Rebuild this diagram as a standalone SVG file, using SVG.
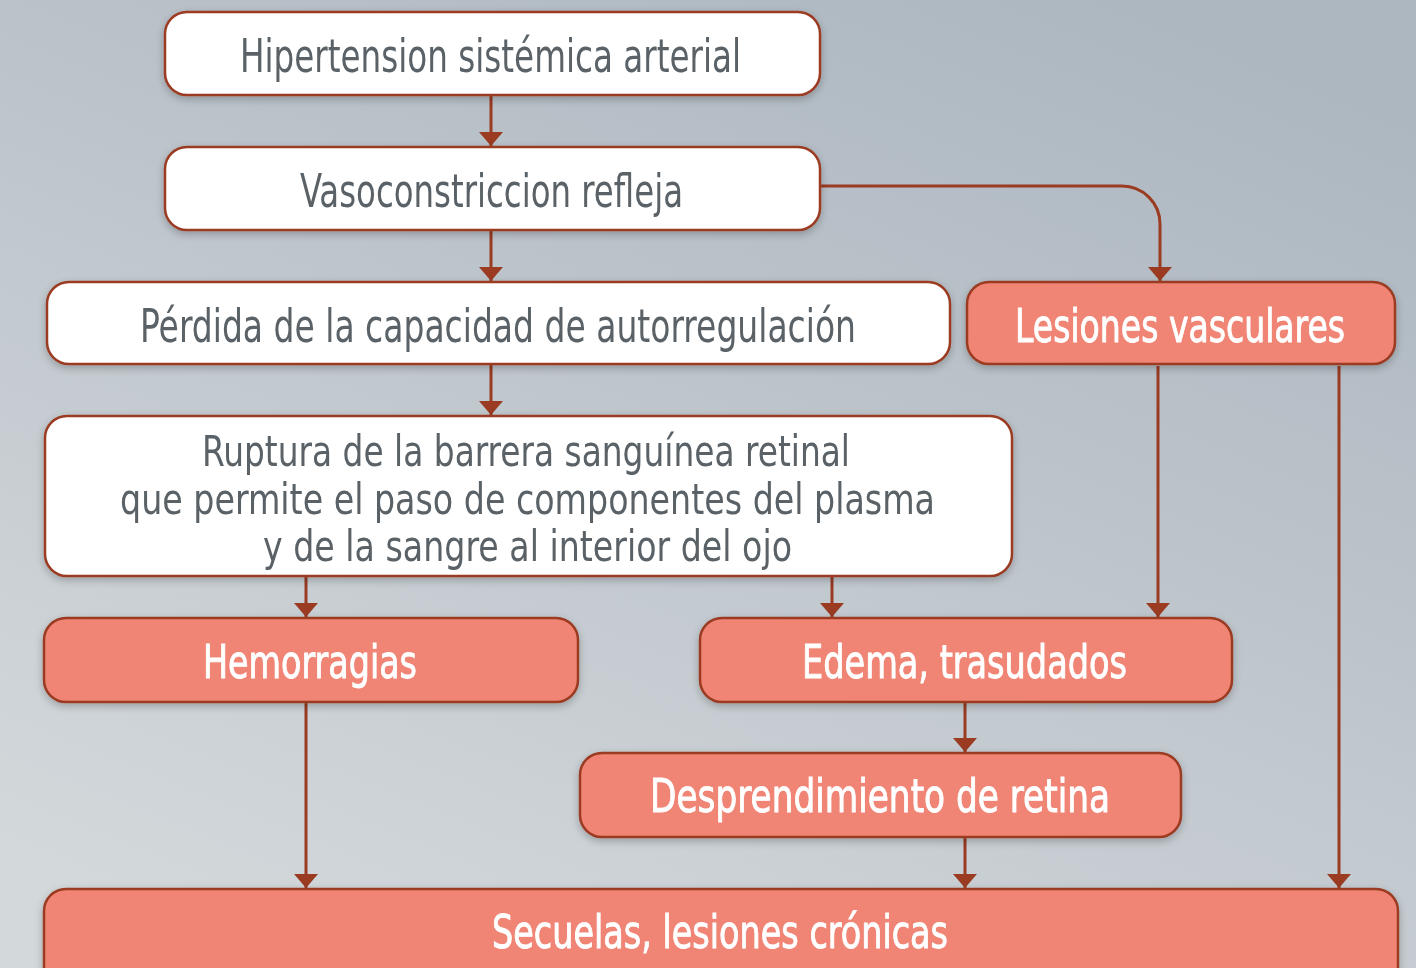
<svg xmlns="http://www.w3.org/2000/svg" width="1416" height="968" viewBox="0 0 1416 968">
<defs>
<linearGradient id="bg" x1="0.8" y1="0" x2="0.2" y2="1">
<stop offset="0" stop-color="#adb7c0"/>
<stop offset="1" stop-color="#d3d8db"/>
</linearGradient>
<filter id="sh" x="-5%" y="-20%" width="110%" height="150%">
<feGaussianBlur in="SourceAlpha" stdDeviation="4"/>
<feOffset dx="0" dy="3" result="b"/>
<feComponentTransfer><feFuncA type="linear" slope="0.25"/></feComponentTransfer>
<feMerge><feMergeNode/><feMergeNode in="SourceGraphic"/></feMerge>
</filter>
<marker id="ah" viewBox="0 0 14 24" refX="14" refY="12" markerWidth="14" markerHeight="24" markerUnits="userSpaceOnUse" orient="auto">
<path d="M0,0 L14,12 L0,24 z" fill="#9a3b22"/>
</marker>
<style>
.w{fill:#ffffff;stroke:#9a3b22;stroke-width:2.5}
.s{fill:#f08474;stroke:#9a3b22;stroke-width:2.5}
.tg{font-family:"Liberation Sans Narrow","DejaVu Sans Condensed","Liberation Sans",sans-serif;font-stretch:condensed;fill:#5a6267;text-anchor:middle}
.tw{font-family:"Liberation Sans Narrow","DejaVu Sans Condensed","Liberation Sans",sans-serif;font-stretch:condensed;fill:#ffffff;stroke:#ffffff;stroke-width:0.9;text-anchor:middle}
.c{fill:none;stroke:#9a3b22;stroke-width:3;marker-end:url(#ah)}
</style>
</defs>
<rect width="1416" height="968" fill="url(#bg)"/>
<g id="connectors">
<path class="c" d="M491 96 V146"/>
<path class="c" d="M491 231 V281"/>
<path class="c" d="M491 365 V415"/>
<path class="c" d="M821 186 H1122 A38 38 0 0 1 1160 224 V281"/>
<path class="c" d="M306 577 V617"/>
<path class="c" d="M832 577 V617"/>
<path class="c" d="M1158 366 V617"/>
<path class="c" d="M965 703 V752"/>
<path class="c" d="M306 703 V888"/>
<path class="c" d="M965 838 V888"/>
<path class="c" d="M1339 366 V888"/>
</g>
<g id="n1" filter="url(#sh)">
<rect class="w" x="165" y="12" width="655" height="83" rx="22"/>
<text class="tg" x="490.5" y="72" font-size="46" textLength="501" lengthAdjust="spacingAndGlyphs">Hipertension sistémica arterial</text>
</g>
<g id="n2" filter="url(#sh)">
<rect class="w" x="165" y="147" width="655" height="83" rx="22"/>
<text class="tg" x="491.5" y="207" font-size="46" textLength="383" lengthAdjust="spacingAndGlyphs">Vasoconstriccion refleja</text>
</g>
<g id="n3" filter="url(#sh)">
<rect class="w" x="47" y="282" width="903" height="82" rx="22"/>
<text class="tg" x="498" y="342" font-size="46" textLength="716" lengthAdjust="spacingAndGlyphs">Pérdida de la capacidad de autorregulación</text>
</g>
<g id="n4" filter="url(#sh)">
<rect class="s" x="967" y="282" width="428" height="82" rx="22"/>
<text class="tw" x="1180" y="342" font-size="46" textLength="330" lengthAdjust="spacingAndGlyphs">Lesiones vasculares</text>
</g>
<g id="n5" filter="url(#sh)">
<rect class="w" x="45" y="416" width="967" height="160" rx="22"/>
<text class="tg" x="526" y="466" font-size="43" textLength="648" lengthAdjust="spacingAndGlyphs">Ruptura de la barrera sanguínea retinal</text>
<text class="tg" x="527.5" y="514" font-size="43" textLength="815" lengthAdjust="spacingAndGlyphs">que permite el paso de componentes del plasma</text>
<text class="tg" x="527.5" y="561" font-size="43" textLength="529" lengthAdjust="spacingAndGlyphs">y de la sangre al interior del ojo</text>
</g>
<g id="n6" filter="url(#sh)">
<rect class="s" x="44" y="618" width="534" height="84" rx="22"/>
<text class="tw" x="310" y="678" font-size="46" textLength="214" lengthAdjust="spacingAndGlyphs">Hemorragias</text>
</g>
<g id="n7" filter="url(#sh)">
<rect class="s" x="700" y="618" width="532" height="84" rx="22"/>
<text class="tw" x="964.5" y="678" font-size="46" textLength="325" lengthAdjust="spacingAndGlyphs">Edema, trasudados</text>
</g>
<g id="n8" filter="url(#sh)">
<rect class="s" x="580" y="753" width="601" height="84" rx="22"/>
<text class="tw" x="880" y="812" font-size="46" textLength="460" lengthAdjust="spacingAndGlyphs">Desprendimiento de retina</text>
</g>
<g id="n9" filter="url(#sh)">
<rect class="s" x="44" y="889" width="1354" height="110" rx="22"/>
<text class="tw" x="720" y="948" font-size="46" textLength="456" lengthAdjust="spacingAndGlyphs">Secuelas, lesiones crónicas</text>
</g>
</svg>
